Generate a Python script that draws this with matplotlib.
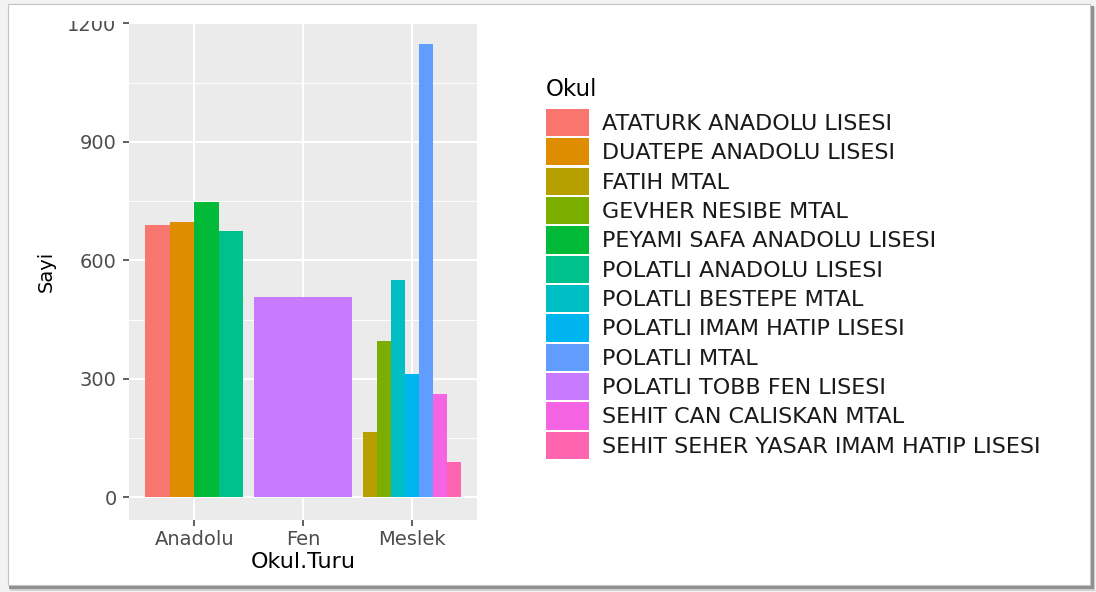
import numpy as np
import matplotlib
matplotlib.use("Agg")
import matplotlib.pyplot as plt
from matplotlib.patches import Rectangle

# data
categories = ["Anadolu", "Fen", "Meslek"]
okul = [
    "ATATURK ANADOLU LISESI",
    "DUATEPE ANADOLU LISESI",
    "FATIH MTAL",
    "GEVHER NESIBE MTAL",
    "PEYAMI SAFA ANADOLU LISESI",
    "POLATLI ANADOLU LISESI",
    "POLATLI BESTEPE MTAL",
    "POLATLI IMAM HATIP LISESI",
    "POLATLI MTAL",
    "POLATLI TOBB FEN LISESI",
    "SEHIT CAN CALISKAN MTAL",
    "SEHIT SEHER YASAR IMAM HATIP LISESI",
]
okul_turu = ["Anadolu", "Anadolu", "Meslek", "Meslek", "Anadolu", "Anadolu",
             "Meslek", "Meslek", "Meslek", "Fen", "Meslek", "Meslek"]
sayi = [690, 697, 166, 396, 749, 674, 551, 312, 1147, 507, 261, 89]
yticks = [0, 300, 600, 900, 1200]

# ggplot default hue palette for 12 levels
colors = ["#F8766D", "#DE8C00", "#B79F00", "#7CAE00", "#00BA38", "#00C08B",
          "#00BFC4", "#00B4F0", "#619CFF", "#C77CFF", "#F564E3", "#FF64B0"]

W, H = 1096, 592
plt.rcParams['font.family'] = ['DejaVu Sans']
fig = plt.figure(figsize=(W / 100, H / 100), dpi=100, facecolor="#f2f2f2")


def px_rect(x0, y0, x1, y1, **kw):
    """Rectangle given in image pixels (origin top-left), in figure coords."""
    return Rectangle((x0 / W, 1 - y1 / H), (x1 - x0) / W, (y1 - y0) / H,
                     transform=fig.transFigure, **kw)


# card with drop shadow behind everything
fig.add_artist(px_rect(10, 7, 1095, 591, facecolor="#d0d0d0", edgecolor="none", zorder=-12))
fig.add_artist(px_rect(9, 6, 1094, 589, facecolor="#8f8f8f", edgecolor="none", zorder=-11))
fig.add_artist(px_rect(8, 4, 1090, 585, facecolor="white", edgecolor="#c4c4c4",
                       linewidth=0.8, zorder=-10))

# the top of the panel is cropped at the 1200 line in the reference
ax = fig.add_axes([129 / W, (H - 520) / H, 348 / W, (520 - 23) / H])
ax.set_facecolor("#EBEBEB")

# dodged bars, like position_dodge in ggplot
for i, (name, tur, val) in enumerate(zip(okul, okul_turu, sayi)):
    members = [o for o, t in zip(okul, okul_turu) if t == tur]
    n = len(members)
    j = members.index(name)
    w = 0.9 / n
    x = categories.index(tur) - 0.45 + w * (j + 0.5)
    ax.bar(x, val, width=w, color=colors[i], label=name, linewidth=0, zorder=2)

ymax = max(sayi)
ax.set_ylim(-0.05 * ymax, yticks[-1] + 1)
ax.set_xlim(-0.6, len(categories) - 0.4)
ax.set_xticks(range(len(categories)))
ax.set_xticklabels(categories)
ax.set_yticks(yticks)
ax.set_yticks([150, 450, 750, 1050], minor=True)

ax.grid(which="major", color="white", linewidth=1.5, zorder=1)
ax.grid(which="minor", axis="y", color="white", linewidth=0.7, zorder=1)
ax.set_axisbelow(True)
for s in ax.spines.values():
    s.set_visible(False)

ax.tick_params(axis="both", which="major", length=4.5, width=1.1, color="#333333",
               labelcolor="#4D4D4D", labelsize=14)
ax.tick_params(axis="y", pad=4.5)
ax.tick_params(axis="x", pad=3)
ax.tick_params(which="minor", length=0)

ax.set_xlabel("Okul.Turu", fontsize=16)
ax.set_ylabel("Sayi", fontsize=14)
ax.xaxis.set_label_coords(0.5, -0.064)
ax.yaxis.set_label_coords(-0.21, 0.5)

# cropped top edge also cuts the 1200 label
clip = px_rect(0, 21, W, H, facecolor="none", edgecolor="none")
for t in ax.yaxis.get_major_ticks():
    t.label1.set_clip_path(clip)
    t.tick1line.set_clip_path(clip)

fs = 16
leg = ax.legend(title="Okul", loc="upper left",
                bbox_to_anchor=(546 / W, 1 - 78.5 / H), bbox_transform=fig.transFigure,
                frameon=False, borderpad=0, borderaxespad=0,
                fontsize=fs, title_fontsize=16.5,
                handlelength=1.94, handleheight=1.494, labelspacing=0.104,
                handletextpad=0.58, alignment="left")
leg._legend_box.sep = 5.5  # a bit more room under the title
for txt in leg.get_texts():
    txt.set_color("#1a1a1a")

fig.savefig("out.png", dpi=100, facecolor=fig.get_facecolor())
